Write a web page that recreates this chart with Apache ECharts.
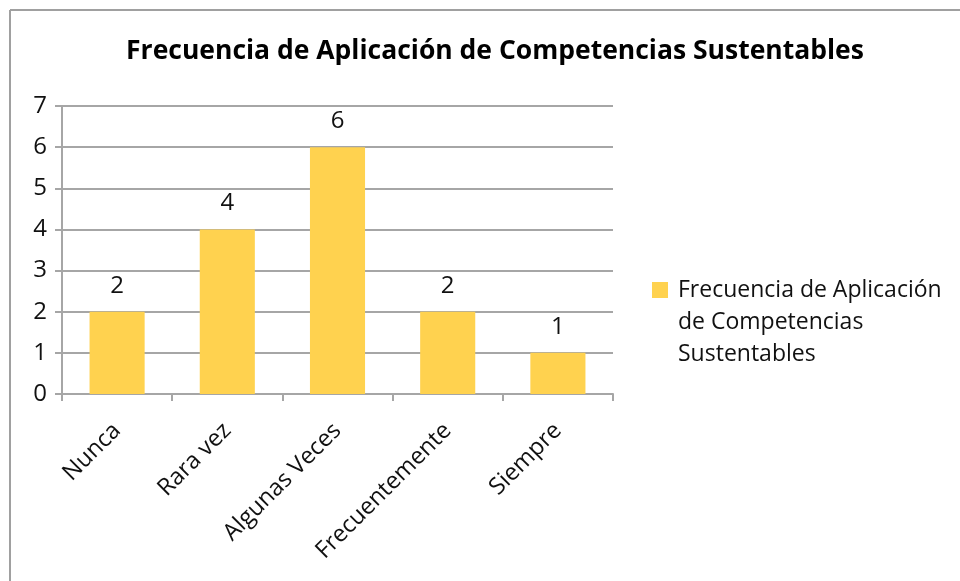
<!DOCTYPE html>
<html>
<head>
<meta charset="utf-8">
<script src="https://cdn.jsdelivr.net/npm/echarts@6/dist/echarts.min.js"></script>
<style>
  html, body { margin: 0; padding: 0; background: #fff; }
  #chart { width: 960px; height: 581px; }
</style>
</head>
<body>
<div id="chart"></div>
<script>
var categories = ['Nunca', 'Rara vez', 'Algunas Veces', 'Frecuentemente', 'Siempre'];
var values = [2, 4, 6, 2, 1];
var seriesName = 'Frecuencia de Aplicación\nde Competencias\nSustentables';
var titleText = 'Frecuencia de Aplicación de Competencias Sustentables';

var font = '"Open Sans", "DejaVu Sans", sans-serif';
var lineColor = '#a6a6a6';

var chart = echarts.init(document.getElementById('chart'));
chart.setOption({
  backgroundColor: '#fff',
  animation: false,
  textStyle: { fontFamily: font },
  title: {
    text: titleText,
    left: 490,
    textAlign: 'center',
    top: 33,
    textStyle: { fontFamily: font, fontSize: 26.5, fontWeight: 'bold', color: '#000' }
  },
  legend: {
    left: 652,
    top: 210,
    padding: 0,
    orient: 'vertical',
    itemWidth: 16,
    itemHeight: 16,
    icon: 'rect',
    // empty lines above keep the icon level with the first text line
    formatter: function(name) {
      return '\n\n' + name;
    },
    textStyle: { fontFamily: font, fontSize: 23, color: '#111', lineHeight: 32, padding: [0, 0, 0, 5] }
  },
  grid: { left: 62, right: 347, top: 106, bottom: 187 },
  xAxis: {
    type: 'category',
    data: categories,
    axisLine: { lineStyle: { color: lineColor, width: 2 } },
    axisTick: { show: true, length: 7, lineStyle: { color: lineColor, width: 2 } },
    axisLabel: { rotate: 45, margin: 33, fontSize: 23.5, color: '#111', fontFamily: font, interval: 0 }
  },
  yAxis: {
    type: 'value',
    min: 0,
    max: 7,
    interval: 1,
    axisLine: { show: true, lineStyle: { color: lineColor, width: 2 } },
    axisTick: { show: true, length: 7, lineStyle: { color: lineColor, width: 2 } },
    axisLabel: { margin: 15, fontSize: 24, color: '#111', fontFamily: font },
    splitLine: { lineStyle: { color: lineColor, width: 2 } }
  },
  series: [{
    name: seriesName,
    type: 'bar',
    data: values,
    barWidth: '50%',
    itemStyle: { color: '#FFD24F' },
    label: { show: true, position: 'top', distance: 14, fontSize: 24, color: '#111', fontFamily: font }
  }],
  graphic: [
    { type: 'line', shape: { x1: 10, y1: 10, x2: 960, y2: 10 }, style: { stroke: '#a0a0a0', lineWidth: 2 } },
    { type: 'line', shape: { x1: 10, y1: 10, x2: 10, y2: 581 }, style: { stroke: '#a0a0a0', lineWidth: 2 } }
  ]
});
</script>
</body>
</html>
